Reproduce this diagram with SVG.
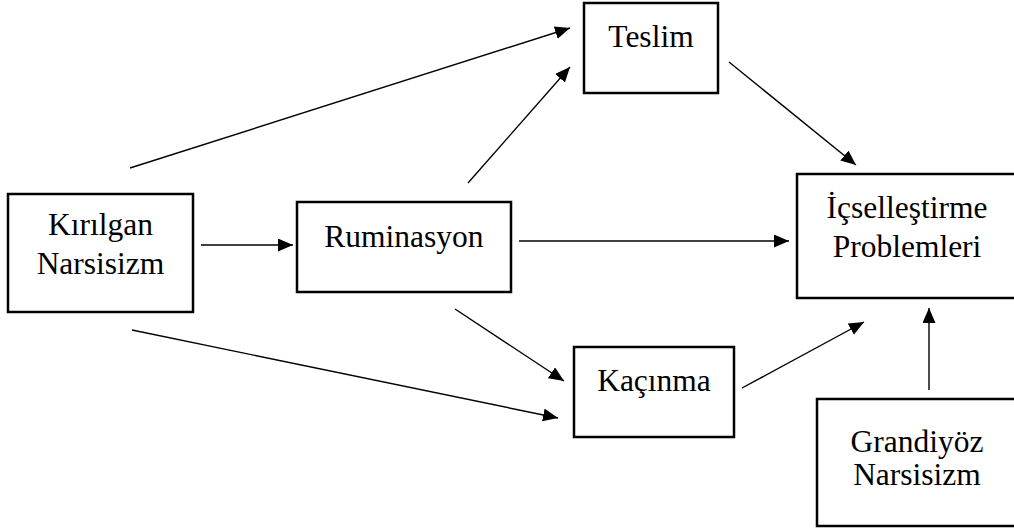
<svg xmlns="http://www.w3.org/2000/svg" width="1014" height="532" viewBox="0 0 1014 532">
<style>
.box{fill:#fff;stroke:#000;stroke-width:2.5}
.lbl{font-family:"Liberation Serif","Times New Roman",serif;font-size:31.5px;fill:#000;text-anchor:middle}
.cn line{stroke:#000;stroke-width:1.4;marker-end:url(#ah)}
</style>
<defs>
<marker id="ah" markerUnits="userSpaceOnUse" markerWidth="16" markerHeight="14" refX="15" refY="6.5" orient="auto">
<path d="M0,0 L15,6.5 L0,13 z" fill="#000"/>
</marker>
</defs>
<rect width="1014" height="532" fill="#fff"/>
<g id="kirilgan"><rect class="box" x="8" y="194" width="185" height="118"/><text class="lbl" x="100.5" y="235">Kırılgan</text><text class="lbl" x="100.5" y="274">Narsisizm</text></g>
<g id="ruminasyon"><rect class="box" x="297" y="202" width="214" height="90"/><text class="lbl" x="404" y="247">Ruminasyon</text></g>
<g id="teslim"><rect class="box" x="584" y="3" width="134" height="90"/><text class="lbl" x="651" y="47">Teslim</text></g>
<g id="icsellestirme"><rect class="box" x="797" y="174" width="220" height="124"/><text class="lbl" x="907" y="218">İçselleştirme</text><text class="lbl" x="907" y="257">Problemleri</text></g>
<g id="kacinma"><rect class="box" x="574" y="347" width="160" height="90"/><text class="lbl" x="654" y="391">Kaçınma</text></g>
<g id="grandiyoz"><rect class="box" x="817" y="399" width="200" height="127"/><text class="lbl" x="917" y="452">Grandiyöz</text><text class="lbl" x="917" y="485">Narsisizm</text></g>
<g id="connectors" class="cn">
<line x1="201" y1="245" x2="293" y2="245"/>
<line x1="519" y1="241" x2="789" y2="241"/>
<line x1="130" y1="168" x2="570" y2="28"/>
<line x1="468" y1="183" x2="570" y2="67"/>
<line x1="729" y1="62" x2="856" y2="165"/>
<line x1="455" y1="309" x2="564" y2="381"/>
<line x1="132" y1="330" x2="558" y2="418"/>
<line x1="742" y1="388" x2="864" y2="322"/>
<line x1="929" y1="390" x2="929" y2="308"/>
</g>
</svg>
